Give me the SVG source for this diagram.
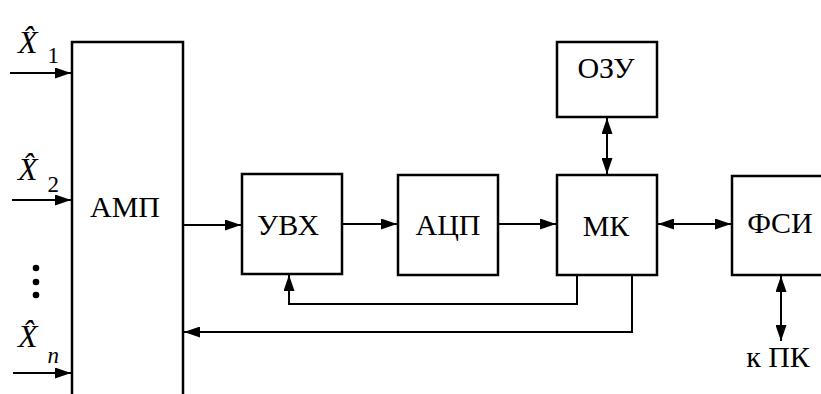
<svg xmlns="http://www.w3.org/2000/svg" width="821" height="394" viewBox="0 0 821 394">
<style>
.box{fill:#fff;stroke:#000;stroke-width:2.5}
.lbl{font-family:"Liberation Serif","Times New Roman",serif;font-size:30px;fill:#000;text-anchor:middle}
.xl{font-family:"Liberation Serif","Times New Roman",serif;font-size:32px;fill:#000;font-style:italic}
.sub{font-size:23px;font-style:normal}
.subi{font-size:23px;font-style:italic}
.ln{fill:none;stroke:#000;stroke-width:2}
</style>
<defs>
<marker id="ah" markerUnits="userSpaceOnUse" markerWidth="16" markerHeight="11" refX="16" refY="5.5" orient="auto-start-reverse">
<path d="M0,0 L16,5.5 L0,11 z" fill="#000"/>
</marker>
</defs>
<rect width="821" height="394" fill="#fff"/>
<g id="amp"><rect class="box" x="72" y="42" width="111" height="380"/><text class="lbl" x="125" y="217">АМП</text></g>
<g id="uvx"><rect class="box" x="242" y="174" width="100" height="100"/><text class="lbl" x="288" y="235">УВХ</text></g>
<g id="acp"><rect class="box" x="398" y="175" width="100" height="100"/><text class="lbl" x="448" y="235">АЦП</text></g>
<g id="mk"><rect class="box" x="557" y="175" width="100" height="100"/><text class="lbl" x="606" y="236">МК</text></g>
<g id="ozu"><rect class="box" x="557" y="42" width="100" height="75"/><text class="lbl" x="606" y="78">ОЗУ</text></g>
<g id="fsi"><rect class="box" x="732" y="176" width="100" height="99"/><text class="lbl" x="780" y="233">ФСИ</text></g>
<g id="inputs">
<text class="xl" x="18" y="53">X̂<tspan class="sub" dx="10" dy="10">1</tspan></text>
<text class="xl" x="18" y="180">X̂<tspan class="sub" dx="10" dy="12">2</tspan></text>
<text class="xl" x="18" y="347">X̂<tspan class="subi" dx="10" dy="16">n</tspan></text>
<circle cx="36" cy="268" r="3.3"/><circle cx="36" cy="282" r="3.3"/><circle cx="36" cy="295" r="3.3"/>
</g>
<g id="pc"><text class="lbl" x="778" y="367">к ПК</text></g>
<g id="connectors">
<line class="ln" x1="10" y1="73" x2="71" y2="73" marker-end="url(#ah)"/>
<line class="ln" x1="12" y1="200" x2="71" y2="200" marker-end="url(#ah)"/>
<line class="ln" x1="13" y1="373" x2="71" y2="373" marker-end="url(#ah)"/>
<line class="ln" x1="183" y1="225" x2="241" y2="225" marker-end="url(#ah)"/>
<line class="ln" x1="342" y1="224" x2="397" y2="224" marker-end="url(#ah)"/>
<line class="ln" x1="498" y1="224" x2="556" y2="224" marker-end="url(#ah)"/>
<line class="ln" x1="658" y1="224" x2="731" y2="224" marker-start="url(#ah)" marker-end="url(#ah)"/>
<line class="ln" x1="607" y1="118" x2="607" y2="174" marker-start="url(#ah)" marker-end="url(#ah)"/>
<line class="ln" x1="781" y1="276" x2="781" y2="341" marker-start="url(#ah)" marker-end="url(#ah)"/>
<path class="ln" d="M577,275 V304 H289 V275" marker-end="url(#ah)"/>
<path class="ln" d="M632,275 V332 H184" marker-end="url(#ah)"/>
</g>
</svg>
